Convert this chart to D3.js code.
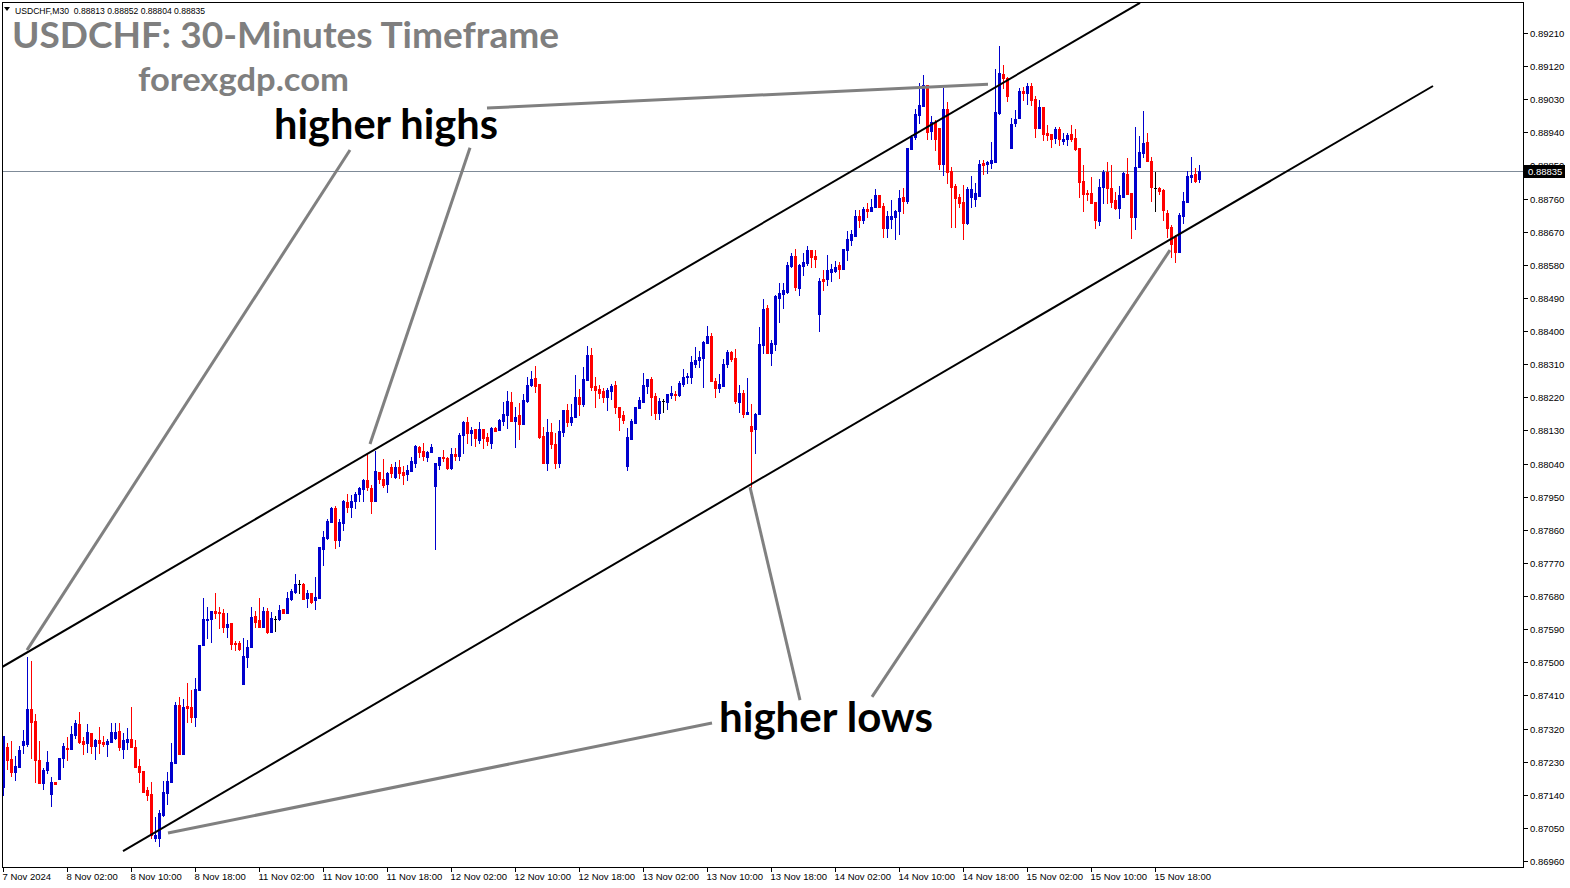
<!DOCTYPE html>
<html><head><meta charset="utf-8">
<script src="https://cdn.jsdelivr.net/npm/d3@7"></script>
<style>html,body{margin:0;padding:0;background:#fff;overflow:hidden}</style>
</head><body><svg id="c" width="1570" height="888"></svg>
<script>
// ---------------- DATA ----------------
const symbolName = "USDCHF,M30";
const lastQuote = [0.88813, 0.88852, 0.88804, 0.88835]; // O H L C of last bar
const currentPrice = 0.88835;
const titleText = "USDCHF: 30-Minutes Timeframe";
const siteText = "forexgdp.com";

const openP = [
0.87162,0.87271,0.87237,0.87203,0.87216,0.87275,0.87278,0.87373,0.87340,0.87235,
0.87173,0.87206,0.87143,0.87176,0.87184,0.87239,0.87267,0.87265,0.87302,0.87332,
0.87285,0.87280,0.87307,0.87273,0.87289,0.87283,0.87278,0.87283,0.87295,0.87312,
0.87265,0.87284,0.87292,0.87271,0.87219,0.87205,0.87153,0.87142,0.87023,0.87023,
0.87085,0.87144,0.87176,0.87227,0.87384,0.87251,0.87381,0.87379,0.87350,0.87425,
0.87547,0.87615,0.87617,0.87639,0.87637,0.87634,0.87597,0.87606,0.87553,0.87552,
0.87440,0.87514,0.87542,0.87626,0.87615,0.87595,0.87639,0.87583,0.87617,0.87617,
0.87645,0.87635,0.87672,0.87692,0.87712,0.87714,0.87676,0.87689,0.87669,0.87676,
0.87807,0.87838,0.87882,0.87918,0.87831,0.87879,0.87936,0.87921,0.87937,0.87956,
0.87972,0.87995,0.87974,0.87939,0.88018,0.87998,0.87984,0.88032,0.88004,0.88031,
0.88016,0.88012,0.88021,0.88042,0.88086,0.88073,0.88059,0.88071,0.87980,0.88036,
0.88058,0.88056,0.88029,0.88065,0.88061,0.88117,0.88153,0.88122,0.88133,0.88104,
0.88134,0.88113,0.88097,0.88137,0.88131,0.88156,0.88171,0.88207,0.88156,0.88172,
0.88147,0.88210,0.88253,0.88272,0.88256,0.88115,0.88042,0.88125,0.88093,0.88042,
0.88127,0.88186,0.88154,0.88166,0.88220,0.88202,0.88267,0.88334,0.88251,0.88242,
0.88237,0.88222,0.88237,0.88253,0.88193,0.88172,0.88033,0.88106,0.88151,0.88192,
0.88208,0.88252,0.88269,0.88224,0.88178,0.88209,0.88208,0.88227,0.88229,0.88227,
0.88256,0.88274,0.88276,0.88311,0.88321,0.88328,0.88367,0.88387,0.88264,0.88246,
0.88252,0.88310,0.88343,0.88327,0.88206,0.88231,0.88175,0.88142,0.88133,0.88175,
0.88362,0.88464,0.88340,0.88365,0.88489,0.88501,0.88507,0.88577,0.88604,0.88516,
0.88577,0.88586,0.88619,0.88604,0.88446,0.88541,0.88541,0.88561,0.88564,0.88580,
0.88570,0.88620,0.88648,0.88658,0.88713,0.88702,0.88731,0.88726,0.88736,0.88770,
0.88741,0.88681,0.88704,0.88711,0.88725,0.88764,0.88754,0.88895,0.88927,0.88987,
0.89012,0.89069,0.88945,0.88969,0.88951,0.88854,0.89003,0.88835,0.88795,0.88763,
0.88752,0.88693,0.88765,0.88758,0.88767,0.88858,0.88853,0.88858,0.88860,0.88992,
0.89099,0.89087,0.88898,0.88966,0.88980,0.89052,0.89046,0.89066,0.89030,0.88953,
0.89009,0.88939,0.88935,0.88924,0.88949,0.88917,0.88922,0.88935,0.88924,0.88897,
0.88809,0.88774,0.88774,0.88750,0.88699,0.88792,0.88831,0.88788,0.88756,0.88734,
0.88765,0.88827,0.88774,0.88709,0.88845,0.88885,0.88914,0.88863,0.88789,0.88789,
0.88783,0.88720,0.88684,0.88657,0.88614,0.88714,0.88752,0.88818,0.88826,0.88813];

const highP = [
0.87300,0.87280,0.87285,0.87244,0.87273,0.87316,0.87514,0.87504,0.87359,0.87286,
0.87212,0.87258,0.87189,0.87176,0.87240,0.87280,0.87298,0.87328,0.87343,0.87365,
0.87298,0.87332,0.87308,0.87291,0.87325,0.87300,0.87292,0.87336,0.87336,0.87336,
0.87307,0.87322,0.87379,0.87288,0.87237,0.87205,0.87162,0.87175,0.87079,0.87099,
0.87177,0.87202,0.87282,0.87391,0.87406,0.87401,0.87443,0.87425,0.87456,0.87546,
0.87674,0.87651,0.87638,0.87687,0.87649,0.87644,0.87633,0.87608,0.87558,0.87559,
0.87565,0.87561,0.87651,0.87639,0.87676,0.87649,0.87648,0.87636,0.87626,0.87656,
0.87646,0.87690,0.87698,0.87740,0.87724,0.87716,0.87696,0.87689,0.87731,0.87812,
0.87857,0.87890,0.87923,0.87925,0.87889,0.87941,0.87957,0.87954,0.87962,0.87977,
0.87999,0.88068,0.87981,0.88074,0.88018,0.88052,0.88017,0.88038,0.88043,0.88050,
0.88033,0.88036,0.88059,0.88090,0.88088,0.88095,0.88075,0.88092,0.88041,0.88058,
0.88077,0.88059,0.88081,0.88081,0.88122,0.88156,0.88166,0.88138,0.88135,0.88152,
0.88134,0.88122,0.88140,0.88140,0.88160,0.88208,0.88237,0.88235,0.88195,0.88204,
0.88228,0.88274,0.88291,0.88305,0.88256,0.88140,0.88160,0.88151,0.88122,0.88158,
0.88186,0.88202,0.88202,0.88281,0.88243,0.88303,0.88359,0.88353,0.88276,0.88254,
0.88244,0.88244,0.88255,0.88265,0.88193,0.88184,0.88136,0.88160,0.88195,0.88220,
0.88285,0.88270,0.88276,0.88233,0.88217,0.88216,0.88229,0.88251,0.88238,0.88263,
0.88296,0.88285,0.88332,0.88358,0.88347,0.88372,0.88414,0.88394,0.88272,0.88283,
0.88323,0.88349,0.88347,0.88352,0.88254,0.88240,0.88272,0.88202,0.88178,0.88410,
0.88488,0.88471,0.88376,0.88498,0.88532,0.88530,0.88589,0.88611,0.88622,0.88582,
0.88611,0.88631,0.88621,0.88621,0.88543,0.88566,0.88607,0.88582,0.88591,0.88589,
0.88622,0.88671,0.88675,0.88729,0.88729,0.88738,0.88749,0.88758,0.88785,0.88770,
0.88749,0.88727,0.88756,0.88729,0.88783,0.88788,0.88898,0.88932,0.89003,0.89073,
0.89096,0.89069,0.88985,0.88974,0.88951,0.89060,0.89023,0.88847,0.88800,0.88773,
0.88797,0.88791,0.88821,0.88802,0.88865,0.88865,0.88862,0.88915,0.89111,0.89175,
0.89123,0.89090,0.88978,0.89001,0.89061,0.89064,0.89073,0.89075,0.89039,0.89028,
0.89009,0.88960,0.88935,0.88954,0.88954,0.88937,0.88937,0.88960,0.88948,0.88897,
0.88851,0.88783,0.88820,0.88750,0.88812,0.88838,0.88859,0.88851,0.88779,0.88795,
0.88833,0.88871,0.88774,0.88954,0.88931,0.88999,0.88937,0.88874,0.88833,0.88792,
0.88785,0.88729,0.88688,0.88661,0.88720,0.88779,0.88835,0.88874,0.88842,0.88852];

const lowP = [
0.87139,0.87209,0.87191,0.87180,0.87216,0.87254,0.87273,0.87241,0.87176,0.87173,
0.87157,0.87198,0.87110,0.87170,0.87184,0.87216,0.87235,0.87265,0.87293,0.87280,
0.87251,0.87257,0.87254,0.87238,0.87254,0.87273,0.87244,0.87283,0.87291,0.87262,
0.87240,0.87264,0.87269,0.87216,0.87176,0.87148,0.87125,0.87022,0.87015,0.87002,
0.87082,0.87115,0.87176,0.87227,0.87251,0.87251,0.87339,0.87339,0.87328,0.87425,
0.87547,0.87565,0.87556,0.87621,0.87592,0.87581,0.87570,0.87537,0.87533,0.87533,
0.87440,0.87488,0.87542,0.87595,0.87595,0.87595,0.87579,0.87581,0.87586,0.87615,
0.87633,0.87635,0.87669,0.87687,0.87687,0.87671,0.87651,0.87662,0.87645,0.87676,
0.87763,0.87836,0.87882,0.87810,0.87817,0.87859,0.87909,0.87896,0.87918,0.87937,
0.87937,0.87968,0.87907,0.87937,0.87986,0.87975,0.87963,0.88004,0.88000,0.88000,
0.87984,0.87995,0.88021,0.88032,0.88059,0.88050,0.88047,0.88071,0.87808,0.88026,
0.88048,0.88024,0.88024,0.88050,0.88050,0.88068,0.88097,0.88090,0.88089,0.88097,
0.88081,0.88090,0.88081,0.88129,0.88131,0.88145,0.88136,0.88156,0.88084,0.88108,
0.88147,0.88208,0.88251,0.88235,0.88109,0.88041,0.88023,0.88081,0.88027,0.88032,
0.88115,0.88142,0.88145,0.88166,0.88172,0.88196,0.88267,0.88240,0.88195,0.88219,
0.88206,0.88186,0.88215,0.88178,0.88131,0.88151,0.88022,0.88106,0.88151,0.88190,
0.88208,0.88231,0.88172,0.88162,0.88162,0.88181,0.88188,0.88219,0.88213,0.88224,
0.88251,0.88260,0.88260,0.88302,0.88303,0.88249,0.88367,0.88264,0.88222,0.88235,
0.88252,0.88303,0.88319,0.88204,0.88181,0.88166,0.88175,0.87977,0.88070,0.88175,
0.88341,0.88340,0.88308,0.88349,0.88426,0.88462,0.88503,0.88573,0.88512,0.88498,
0.88552,0.88580,0.88575,0.88575,0.88401,0.88512,0.88525,0.88537,0.88560,0.88545,
0.88570,0.88593,0.88635,0.88658,0.88682,0.88693,0.88711,0.88726,0.88736,0.88738,
0.88657,0.88657,0.88679,0.88651,0.88664,0.88722,0.88747,0.88895,0.88921,0.88965,
0.89012,0.88921,0.88921,0.88892,0.88840,0.88824,0.88803,0.88684,0.88682,0.88738,
0.88649,0.88691,0.88736,0.88740,0.88767,0.88826,0.88829,0.88842,0.88860,0.88990,
0.89060,0.89026,0.88898,0.88956,0.88980,0.89028,0.89017,0.89014,0.88928,0.88953,
0.88919,0.88919,0.88901,0.88910,0.88906,0.88908,0.88906,0.88917,0.88892,0.88765,
0.88725,0.88756,0.88747,0.88679,0.88688,0.88747,0.88747,0.88738,0.88731,0.88708,
0.88765,0.88773,0.88654,0.88677,0.88845,0.88874,0.88863,0.88754,0.88727,0.88773,
0.88702,0.88657,0.88600,0.88589,0.88614,0.88695,0.88752,0.88806,0.88806,0.88804];

const closeP = [
0.87300,0.87235,0.87203,0.87218,0.87262,0.87286,0.87373,0.87339,0.87235,0.87173,
0.87207,0.87229,0.87176,0.87170,0.87240,0.87272,0.87263,0.87304,0.87335,0.87284,
0.87278,0.87310,0.87273,0.87289,0.87282,0.87279,0.87287,0.87311,0.87311,0.87271,
0.87289,0.87292,0.87269,0.87216,0.87203,0.87148,0.87138,0.87031,0.87031,0.87090,
0.87148,0.87177,0.87229,0.87384,0.87251,0.87379,0.87377,0.87352,0.87427,0.87546,
0.87617,0.87618,0.87638,0.87635,0.87633,0.87597,0.87604,0.87550,0.87549,0.87535,
0.87517,0.87542,0.87624,0.87610,0.87595,0.87639,0.87581,0.87620,0.87617,0.87641,
0.87635,0.87675,0.87694,0.87713,0.87712,0.87673,0.87689,0.87664,0.87678,0.87812,
0.87841,0.87885,0.87920,0.87831,0.87881,0.87937,0.87923,0.87938,0.87957,0.87974,
0.87996,0.87975,0.87939,0.88020,0.87998,0.87983,0.88014,0.88015,0.88032,0.88015,
0.88009,0.88023,0.88047,0.88088,0.88071,0.88061,0.88072,0.88086,0.88041,0.88058,
0.88055,0.88029,0.88066,0.88061,0.88118,0.88153,0.88124,0.88130,0.88109,0.88133,
0.88109,0.88100,0.88136,0.88129,0.88158,0.88175,0.88210,0.88156,0.88166,0.88147,
0.88213,0.88253,0.88270,0.88252,0.88113,0.88042,0.88125,0.88093,0.88042,0.88128,
0.88186,0.88154,0.88166,0.88221,0.88203,0.88270,0.88335,0.88249,0.88240,0.88233,
0.88222,0.88240,0.88251,0.88195,0.88167,0.88158,0.88112,0.88157,0.88194,0.88213,
0.88254,0.88270,0.88222,0.88178,0.88209,0.88209,0.88229,0.88231,0.88227,0.88259,
0.88276,0.88279,0.88316,0.88321,0.88330,0.88369,0.88387,0.88264,0.88246,0.88256,
0.88311,0.88343,0.88325,0.88210,0.88231,0.88175,0.88179,0.88129,0.88176,0.88365,
0.88460,0.88340,0.88367,0.88496,0.88503,0.88512,0.88580,0.88604,0.88519,0.88580,
0.88589,0.88620,0.88602,0.88597,0.88536,0.88535,0.88566,0.88570,0.88575,0.88569,
0.88622,0.88650,0.88664,0.88713,0.88702,0.88732,0.88727,0.88736,0.88770,0.88738,
0.88681,0.88713,0.88713,0.88727,0.88762,0.88754,0.88898,0.88928,0.88990,0.89014,
0.89069,0.88942,0.88969,0.88921,0.88854,0.89003,0.88833,0.88792,0.88761,0.88749,
0.88693,0.88786,0.88786,0.88776,0.88854,0.88852,0.88860,0.88865,0.88996,0.89102,
0.89087,0.89040,0.88963,0.88976,0.89052,0.89046,0.89066,0.89028,0.88953,0.89010,
0.88935,0.88933,0.88922,0.88949,0.88922,0.88922,0.88933,0.88921,0.88895,0.88806,
0.88773,0.88773,0.88747,0.88702,0.88792,0.88833,0.88788,0.88752,0.88734,0.88770,
0.88829,0.88773,0.88709,0.88847,0.88887,0.88912,0.88863,0.88791,0.88789,0.88782,
0.88729,0.88679,0.88637,0.88616,0.88716,0.88754,0.88822,0.88824,0.88809,0.88835];

const priceTicks = [0.89210,0.89120,0.89030,0.88940,0.88850,0.88760,0.88670,0.88580,0.88490,
  0.88400,0.88310,0.88220,0.88130,0.88040,0.87950,0.87860,0.87770,0.87680,0.87590,0.87500,
  0.87410,0.87320,0.87230,0.87140,0.87050,0.86960];
const dateLabels = ["7 Nov 2024","8 Nov 02:00","8 Nov 10:00","8 Nov 18:00","11 Nov 02:00",
  "11 Nov 10:00","11 Nov 18:00","12 Nov 02:00","12 Nov 10:00","12 Nov 18:00","13 Nov 02:00",
  "13 Nov 10:00","13 Nov 18:00","14 Nov 02:00","14 Nov 10:00","14 Nov 18:00","15 Nov 02:00",
  "15 Nov 10:00","15 Nov 18:00"];
const barsPerLabel = 16;

// trend channel (bar index, price)
const upperChannel = [[-0.25, 0.87487], [284.25, 0.89292]];
const lowerChannel = [[30, 0.86987], [357.5, 0.89066]];
// annotation pointers (bar index, price)
const highsPointers = [
  [[121, 0.89006], [246.25, 0.89071]],
  [[86.75, 0.88892], [6, 0.87533]],
  [[116.75, 0.88898], [91.75, 0.88093]]
];
const lowsPointers = [
  [[177.25, 0.87335], [41.25, 0.87036]],
  [[199.25, 0.87397], [186.75, 0.87976]],
  [[217.25, 0.87406], [291.75, 0.88620]]
];
const highsLabel = {text: "higher highs", bar: 67.75, price: 0.88922};
const lowsLabel = {text: "higher lows", bar: 179, price: 0.87311};

// ---------------- LAYOUT ----------------
const L = 2, R = 1523, T = 2, B = 867;
const svg = d3.select("#c");
const x = d3.scaleLinear().domain([0, 380]).range([3, 1523]);
const y = d3.scaleLinear().domain([0.86960, 0.89210]).range([861, 33]);

svg.append("rect").attr("width", 1570).attr("height", 888).attr("fill", "#fff");
svg.append("defs").append("clipPath").attr("id", "plot")
  .append("rect").attr("x", L + 1).attr("y", T + 1).attr("width", R - L - 1).attr("height", B - T - 1);

const plot = svg.append("g").attr("clip-path", "url(#plot)");

// current price line
plot.append("line")
  .attr("x1", L).attr("x2", R)
  .attr("y1", Math.round(y(currentPrice)) + 0.5).attr("y2", Math.round(y(currentPrice)) + 0.5)
  .attr("stroke", "#7f8b98").attr("stroke-width", 1);

// candles
const UP = "#0000cd", DN = "#ff0000", EQ = "#000000";
const bars = d3.range(openP.length).map(i => ({
  i, o: openP[i], h: highP[i], l: lowP[i], c: closeP[i]
}));
const cg = plot.append("g").attr("shape-rendering", "crispEdges");
bars.forEach(d => {
  const cx = Math.round(x(d.i));
  const col = d.c > d.o ? UP : (d.c < d.o ? DN : EQ);
  const yh = Math.round(y(d.h)), yl = Math.round(y(d.l));
  cg.append("rect").attr("x", cx).attr("y", yh).attr("width", 1)
    .attr("height", Math.max(1, yl - yh + 1)).attr("fill", col);
  const yt = Math.round(y(Math.max(d.o, d.c))), yb = Math.round(y(Math.min(d.o, d.c)));
  cg.append("rect").attr("x", cx - 1).attr("y", yt).attr("width", 3)
    .attr("height", Math.max(1, yb - yt + (col === EQ ? 0 : 1))).attr("fill", col);
});

// channel lines
const ln = d3.line().x(p => x(p[0])).y(p => y(p[1]));
[upperChannel, lowerChannel].forEach(seg => {
  plot.append("path").attr("d", ln(seg)).attr("fill", "none")
    .attr("stroke", "#000").attr("stroke-width", 2);
});
// annotation pointers
highsPointers.concat(lowsPointers).forEach(seg => {
  plot.append("path").attr("d", ln(seg)).attr("fill", "none")
    .attr("stroke", "#808080").attr("stroke-width", 3);
});

// frame
svg.append("rect").attr("x", L + 0.5).attr("y", T + 0.5)
  .attr("width", R - L).attr("height", B - T)
  .attr("fill", "none").attr("stroke", "#000").attr("stroke-width", 1);

// price axis
const axFont = "'Liberation Sans', Arial, sans-serif";
const pa = svg.append("g");
priceTicks.forEach(t => {
  const yy = Math.round(y(t)) + 0.5;
  pa.append("line").attr("x1", R + 1).attr("x2", R + 5).attr("y1", yy).attr("y2", yy)
    .attr("stroke", "#000").attr("stroke-width", 1);
  pa.append("text").attr("x", R + 7).attr("y", yy + 3.5)
    .attr("font-family", axFont).attr("font-size", 9.5).attr("fill", "#000")
    .text(t.toFixed(5));
});
// current price tag
const cy = Math.round(y(currentPrice));
pa.append("rect").attr("x", R + 1).attr("y", cy - 6).attr("width", 41).attr("height", 13).attr("fill", "#000");
pa.append("text").attr("x", R + 5).attr("y", cy + 4)
  .attr("font-family", axFont).attr("font-size", 9.5).attr("fill", "#fff")
  .text(currentPrice.toFixed(5));

// time axis
const ta = svg.append("g");
dateLabels.forEach((lab, k) => {
  const xx = Math.round(x(k * barsPerLabel)) + 0.5;
  ta.append("line").attr("x1", xx).attr("x2", xx).attr("y1", B + 1).attr("y2", B + 5)
    .attr("stroke", "#000").attr("stroke-width", 1);
  ta.append("text").attr("x", xx - 1).attr("y", B + 13)
    .attr("font-family", axFont).attr("font-size", 9.5).attr("fill", "#000")
    .text(lab);
});

// header
svg.append("path").attr("d", "M4,7 L10,7 L7,11 Z").attr("fill", "#000");
svg.append("text").attr("x", 15).attr("y", 14)
  .attr("font-family", axFont).attr("font-size", 8.6).attr("fill", "#000")
  .attr("xml:space", "preserve")
  .text(symbolName + "  " + lastQuote.map(v => v.toFixed(5)).join(" "));

// titles
const tFont = "Lato, 'Open Sans', sans-serif";
svg.append("text").attr("x", 12).attr("y", 48)
  .attr("font-family", tFont).attr("font-weight", 700).attr("font-size", 36)
  .attr("fill", "#7f7f7f").attr("textLength", 547).attr("lengthAdjust", "spacingAndGlyphs")
  .text(titleText);
svg.append("text").attr("x", 138).attr("y", 91)
  .attr("font-family", tFont).attr("font-weight", 700).attr("font-size", 32)
  .attr("fill", "#7f7f7f").attr("textLength", 211).attr("lengthAdjust", "spacingAndGlyphs")
  .text(siteText);

// annotation labels
[[highsLabel, 224], [lowsLabel, 214]].forEach(([lb, w]) => {
  svg.append("text").attr("x", x(lb.bar)).attr("y", y(lb.price))
    .attr("font-family", tFont).attr("font-weight", 700).attr("font-size", 42)
    .attr("fill", "#000").attr("textLength", w).attr("lengthAdjust", "spacingAndGlyphs")
    .text(lb.text);
});
</script>
</body></html>
